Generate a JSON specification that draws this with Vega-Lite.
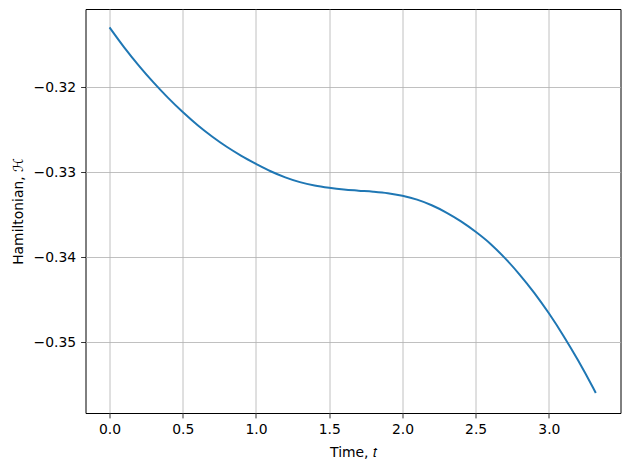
{
  "$schema": "https://vega.github.io/schema/vega-lite/v6.json",
  "width": 535,
  "height": 404,
  "autosize": {"type": "none"},
  "padding": {"left": 85.5, "top": 9, "right": 9.5, "bottom": 56},
  "background": "white",
  "config": {
    "view": {"stroke": "black", "strokeWidth": 1},
    "font": "DejaVu Sans",
    "axis": {
      "labelFont": "DejaVu Sans",
      "titleFont": "DejaVu Sans",
      "labelFontSize": 13.9,
      "titleFontSize": 13.9,
      "titleFontWeight": "normal",
      "labelColor": "black",
      "titleColor": "black",
      "tickColor": "black",
      "tickSize": 4.9,
      "tickWidth": 0.8,
      "domain": false,
      "gridColor": "#b0b0b0",
      "gridWidth": 0.8,
      "gridOpacity": 1,
      "labelPadding": 4.9
    }
  },
  "data": {
    "values": [
      {"t": 0.0, "H": -0.31295},
      {"t": 0.1, "H": -0.3153},
      {"t": 0.2, "H": -0.31745},
      {"t": 0.3, "H": -0.31943},
      {"t": 0.4, "H": -0.32125},
      {"t": 0.5, "H": -0.32292},
      {"t": 0.6, "H": -0.32444},
      {"t": 0.7, "H": -0.32579},
      {"t": 0.8, "H": -0.327},
      {"t": 0.9, "H": -0.32806},
      {"t": 1.0, "H": -0.329},
      {"t": 1.1, "H": -0.32988},
      {"t": 1.2, "H": -0.3306},
      {"t": 1.3, "H": -0.33116},
      {"t": 1.4, "H": -0.33156},
      {"t": 1.5, "H": -0.33183},
      {"t": 1.6, "H": -0.33203},
      {"t": 1.7, "H": -0.33216},
      {"t": 1.8, "H": -0.33228},
      {"t": 1.9, "H": -0.33246},
      {"t": 2.0, "H": -0.33277},
      {"t": 2.1, "H": -0.33322},
      {"t": 2.2, "H": -0.33388},
      {"t": 2.3, "H": -0.33474},
      {"t": 2.4, "H": -0.33578},
      {"t": 2.5, "H": -0.337},
      {"t": 2.6, "H": -0.3384},
      {"t": 2.7, "H": -0.3401},
      {"t": 2.8, "H": -0.34203},
      {"t": 2.9, "H": -0.34418},
      {"t": 3.0, "H": -0.34659},
      {"t": 3.1, "H": -0.34925},
      {"t": 3.2, "H": -0.35215},
      {"t": 3.3, "H": -0.3553},
      {"t": 3.32, "H": -0.35596}
    ]
  },
  "mark": {"type": "line", "color": "#1f77b4", "strokeWidth": 2, "interpolate": "monotone", "clip": true},
  "encoding": {
    "x": {
      "field": "t",
      "type": "quantitative",
      "scale": {"domain": [-0.164, 3.489], "nice": false, "zero": false},
      "axis": {
        "title": "Time, 𝑡",
        "values": [0, 0.5, 1, 1.5, 2, 2.5, 3],
        "format": ".1f",
        "titlePadding": 9
      }
    },
    "y": {
      "field": "H",
      "type": "quantitative",
      "scale": {"domain": [-0.35832, -0.31079], "nice": false, "zero": false},
      "axis": {
        "title": "Hamiltonian, ℋ",
        "values": [-0.35, -0.34, -0.33, -0.32],
        "format": ".2f",
        "labelExpr": "replace(datum.label, '-', '−')",
        "titlePadding": 8
      }
    }
  }
}
